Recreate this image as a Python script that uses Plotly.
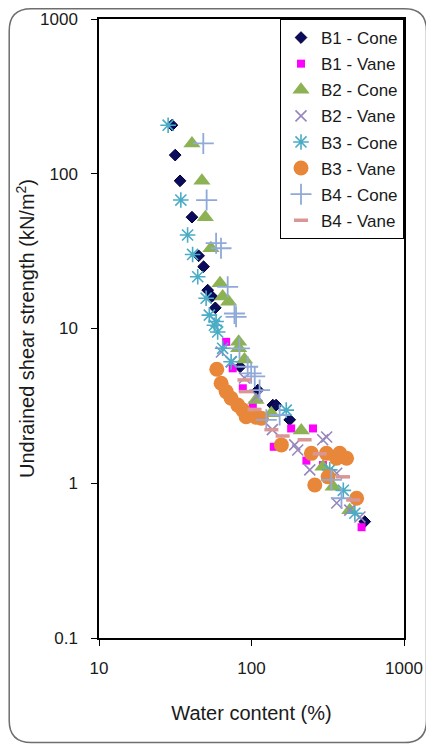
import plotly.graph_objects as go

# ---------------- data (water content %, undrained shear strength kN/m2) ----------------
b1_cone_w = [30.1, 31.6, 34.0, 40.7, 45.0, 48.5, 51.6, 55.0, 57.9, 84.2, 110, 138, 145, 178, 553]
b1_cone_s = [206, 132, 90, 52.4, 29.5, 25.1, 17.7, 16.1, 13.6, 5.66, 4.0, 3.2, 3.2, 2.57, 0.565]

b1_vane_w = [68.2, 75.3, 87.7, 102, 140, 182, 253, 229, 294, 527]
b1_vane_s = [8.2, 5.53, 4.11, 3.2, 1.72, 2.26, 2.26, 1.40, 1.31, 0.52]

b2_cone_w = [40.7, 47.3, 49.8, 54.2, 62.2, 64.7, 70.8, 82.4, 82.4, 89.9, 107, 135, 212, 294, 343, 441]
b2_cone_s = [157, 90, 52.4, 33, 19.6, 16.1, 14.9, 8.2, 7.45, 6.3, 3.45, 2.83, 2.19, 1.28, 0.95, 0.67]

b2_vane_w = [63.5, 73.8, 89.9, 109, 137, 192, 201, 241, 293, 311, 362, 362, 441, 514]
b2_vane_s = [7.05, 6.08, 4.79, 3.66, 2.22, 1.77, 1.64, 1.22, 1.91, 1.99, 1.16, 0.745, 0.67, 0.605]

b3_cone_w = [28.4, 34.4, 38.1, 41.1, 44.4, 50.4, 52.9, 58.6, 57.1, 60.0, 64.7, 73.5, 169, 326, 400, 476]
b3_cone_s = [206, 67.6, 40.2, 30.1, 21.6, 15.7, 12.2, 11.1, 10.5, 9.5, 7.45, 6.1, 2.97, 1.22, 0.9, 0.64]

b3_vane_w = [59.2, 63.2, 68.2, 73.5, 81.3, 87.7, 92.2, 107, 116, 157, 247, 310, 379, 420, 361, 318, 260, 489]
b3_vane_s = [5.45, 4.43, 3.91, 3.54, 3.2, 2.97, 2.69, 2.67, 2.63, 1.77, 1.56, 1.56, 1.56, 1.45, 1.45, 1.1, 0.975, 0.8]

b4_cone_w = [48.3, 50.8, 58.6, 63.1, 69.8, 77.3, 79.2, 83.4, 94.4, 99.5, 105, 113, 125, 153, 334, 389]
b4_cone_s = [157, 67.6, 35.6, 33, 18.6, 12.5, 11.9, 7.45, 5.66, 5.13, 4.9, 4.0, 2.57, 2.76, 1.05, 0.8]

b4_vane_w = [89.9, 92.2, 104.7, 135, 160, 223, 280, 398, 464]
b4_vane_s = [4.65, 3.91, 3.0, 2.22, 2.02, 1.91, 1.55, 1.1, 0.78]

x_tickvals = [10, 100, 1000]
x_ticktext = ["10", "100", "1000"]
y_tickvals = [0.1, 1, 10, 100, 1000]
y_ticktext = ["0.1", "1", "10", "100", "1000"]

FONT = "Liberation Sans, Arial, sans-serif"
TXT = "#1a1a1a"

fig = go.Figure()

series = [
    ("B1 - Cone", b1_cone_w, b1_cone_s, dict(symbol="diamond", size=9, color="#0B0B5E",
                                             line=dict(width=1, color="#000033"))),
    ("B1 - Vane", b1_vane_w, b1_vane_s, dict(symbol="square", size=8, color="#FF00FF",
                                             line=dict(width=0))),
    ("B2 - Cone", b2_cone_w, b2_cone_s, dict(symbol="triangle-up", size=15, color="#8DB254",
                                             line=dict(width=0))),
    ("B2 - Vane", b2_vane_w, b2_vane_s, dict(symbol="x-thin-open", size=11, color="#9786BC",
                                             line=dict(width=1.6, color="#9786BC"))),
    ("B3 - Cone", b3_cone_w, b3_cone_s, dict(symbol="asterisk-open", size=13, color="#4BACC6",
                                             line=dict(width=1.6, color="#4BACC6"))),
    ("B3 - Vane", b3_vane_w, b3_vane_s, dict(symbol="circle", size=15, color="#E8873A",
                                             line=dict(width=0))),
    ("B4 - Cone", b4_cone_w, b4_cone_s, dict(symbol="cross-thin-open", size=15, color="#8FA9D8",
                                             line=dict(width=1.8, color="#8FA9D8"))),
    ("B4 - Vane", b4_vane_w, b4_vane_s, dict(symbol="line-ew-open", size=10, color="#D99694",
                                             line=dict(width=3.5, color="#D99694"))),
]

for i, (name, xs, ys, mk) in enumerate(series):
    fig.add_trace(go.Scatter(x=xs, y=ys, mode="markers", name=name, marker=mk,
                             legendgroup=f"g{i}"))

# page has an 8px body margin; figure coords = page coords - 8
W, H = 426, 740
L, R, T, B = 91, 396, 11, 630
def px(xp):
    return (xp - L) / (R - L)
def py(yp):
    return (B - yp) / (B - T)
x0, x1, y0, y1, r = 1.2, 418.5, 0.8, 734.5, 22
path = (f"M {px(x0 + r)},{py(y0)} L {px(x1 - r)},{py(y0)} "
        f"Q {px(x1)},{py(y0)} {px(x1)},{py(y0 + r)} "
        f"L {px(x1)},{py(y1 - r)} Q {px(x1)},{py(y1)} {px(x1 - r)},{py(y1)} "
        f"L {px(x0 + r)},{py(y1)} Q {px(x0)},{py(y1)} {px(x0)},{py(y1 - r)} "
        f"L {px(x0)},{py(y0 + r)} Q {px(x0)},{py(y0)} {px(x0 + r)},{py(y0)} Z")

fig.update_layout(
    width=W, height=H,
    margin=dict(l=L, r=W - R, t=T, b=H - B, autoexpand=False),
    paper_bgcolor="white", plot_bgcolor="white",
    font=dict(family=FONT, size=17, color=TXT),
    showlegend=True,
    legend=dict(x=1, y=1, xanchor="right", yanchor="top",
                bordercolor="black", borderwidth=1, bgcolor="white",
                font=dict(family=FONT, size=17, color=TXT),
                tracegroupgap=1, itemwidth=30, itemsizing="trace"),
    shapes=[dict(type="path", xref="paper", yref="paper", path=path,
                 line=dict(color="#6e6e6e", width=1.5), fillcolor="rgba(0,0,0,0)", layer="below")],
)

fig.update_xaxes(type="log", range=[1, 3], tickvals=x_tickvals, ticktext=x_ticktext,
                 showgrid=False, zeroline=False, showline=True, linecolor="black", linewidth=1.5,
                 mirror=True, ticks="outside", ticklen=6, tickcolor="black",
                 tickfont=dict(family=FONT, size=17, color=TXT),
                 ticklabelstandoff=8, automargin=False,
                 title=dict(text="Water content (%)", standoff=29,
                            font=dict(family=FONT, size=20, color=TXT)))
fig.update_yaxes(type="log", range=[-1, 3], tickvals=y_tickvals, ticktext=y_ticktext,
                 showgrid=False, zeroline=False, showline=True, linecolor="black", linewidth=1.5,
                 mirror=True, ticks="outside", ticklen=6, tickcolor="black",
                 tickfont=dict(family=FONT, size=17, color=TXT),
                 ticklabelstandoff=10, automargin=False,
                 title=dict(text="Undrained shear strength (kN/m<sup>2</sup>)", standoff=0,
                            font=dict(family=FONT, size=20, color=TXT)))

fig.write_html("out.html")
